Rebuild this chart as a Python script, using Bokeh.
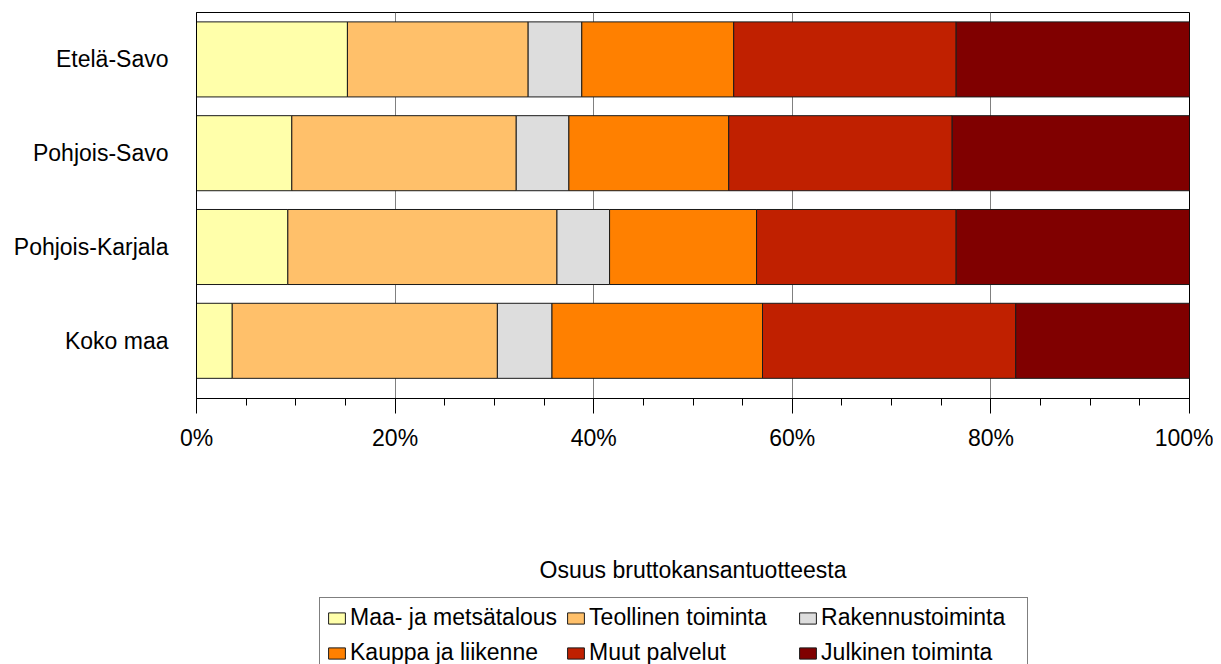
from bokeh.plotting import figure
from bokeh.layouts import column
from bokeh.models import Range1d, FixedTicker, PrintfTickFormatter, Legend, LegendItem
from bokeh.embed import file_html
from bokeh.resources import INLINE

regions = ["Koko maa", "Pohjois-Karjala", "Pohjois-Savo", "Etelä-Savo"]
sectors = ["Maa- ja metsätalous", "Teollinen toiminta", "Rakennustoiminta",
           "Kauppa ja liikenne", "Muut palvelut", "Julkinen toiminta"]
maa = [3.6, 9.2, 9.6, 15.2]
teollinen = [26.7, 27.1, 22.6, 18.2]
rakennus = [5.5, 5.3, 5.3, 5.4]
kauppa = [21.2, 14.8, 16.1, 15.3]
muut = [25.5, 20.1, 22.5, 22.4]
julkinen = [17.5, 23.5, 23.9, 23.5]
colors = ["#FFFFAA", "#FFC06A", "#DDDDDD", "#FF8000", "#C02000", "#800000"]
x_ticks = [0, 20, 40, 60, 80, 100]
x_minor = [5 * i for i in range(21)]
axis_title = "Osuus bruttokansantuotteesta"

keys = ["maa", "teollinen", "rakennus", "kauppa", "muut", "julkinen"]
ypos = list(range(len(regions)))
data = dict(y=ypos, region=regions, maa=maa, teollinen=teollinen, rakennus=rakennus,
            kauppa=kauppa, muut=muut, julkinen=julkinen)

FONT = "Liberation Sans"

p = figure(width=1213, height=596, y_range=Range1d(-0.615, 3.5),
           x_range=Range1d(0, 100), output_backend="svg", toolbar_location=None,
           min_border_left=196, min_border_right=24, min_border_top=12, min_border_bottom=198)
p.background_fill_color = "white"
p.border_fill_color = "white"
p.outline_line_color = "black"
p.outline_line_width = 1

rs = p.hbar_stack(keys, y="y", height=0.80, color=colors, source=data,
                  line_color="#1a1a1a", line_width=1)

p.xaxis.ticker = FixedTicker(ticks=x_ticks, minor_ticks=x_minor)
p.xaxis.formatter = PrintfTickFormatter(format="%d%%")
p.xaxis.major_tick_out = 15
p.xaxis.major_tick_in = 0
p.xaxis.minor_tick_out = 7
p.xaxis.minor_tick_in = 0
p.xaxis.major_tick_line_color = "black"
p.xaxis.minor_tick_line_color = "black"
p.xaxis.axis_line_color = "black"
p.xaxis.major_label_text_font = FONT
p.xaxis.major_label_text_font_size = "23px"
p.xaxis.major_label_text_color = "black"
p.xaxis.major_label_standoff = 11
p.xaxis.axis_label = axis_title
p.xaxis.axis_label_text_font = FONT
p.xaxis.axis_label_text_font_size = "23px"
p.xaxis.axis_label_text_font_style = "normal"
p.xaxis.axis_label_text_color = "black"
p.xaxis.axis_label_standoff = 103

p.yaxis.ticker = FixedTicker(ticks=ypos)
p.yaxis.major_label_overrides = {i: r for i, r in zip(ypos, regions)}
p.yaxis.major_tick_out = 0
p.yaxis.major_tick_in = 0
p.yaxis.minor_tick_line_color = None
p.yaxis.axis_line_color = "black"
p.yaxis.major_label_text_font = FONT
p.yaxis.major_label_text_font_size = "23px"
p.yaxis.major_label_text_color = "black"
p.yaxis.major_label_standoff = 28

p.xgrid.grid_line_color = "#808080"
p.xgrid.grid_line_width = 1
p.ygrid.grid_line_color = None

# legend strip below the chart
p2 = figure(width=1213, height=68, x_range=Range1d(0, 1), y_range=Range1d(0, 1),
            output_backend="svg", toolbar_location=None, x_axis_type=None, y_axis_type=None,
            min_border=0, min_border_left=0, min_border_right=0, min_border_top=0,
            min_border_bottom=0)
p2.outline_line_color = None
p2.background_fill_color = "white"
p2.border_fill_color = "white"
p2.xgrid.visible = False
p2.ygrid.visible = False

# legend proxies, kept out of the visible range
proxies = []
for c in colors:
    proxies.append(p2.hbar(y=[-10], left=[0], right=[1], height=0.5, fill_color=c,
                           line_color="#1a1a1a", line_width=1))

items = [LegendItem(label=s, renderers=[r]) for s, r in zip(sectors, proxies)]
legend = Legend(items=items, location=(123, -9), orientation="horizontal", ncols=3,
                label_text_font=FONT, label_text_font_size="23px", label_text_color="black",
                glyph_width=21, glyph_height=14, label_standoff=3, label_height=27,
                label_width=200, spacing=8, padding=6, margin=0,
                border_line_color="black", border_line_width=1,
                background_fill_color="white", background_fill_alpha=1)
p2.add_layout(legend, "center")

layout = column(p, p2, spacing=0)
open("out.html", "w").write(file_html(layout, INLINE))
